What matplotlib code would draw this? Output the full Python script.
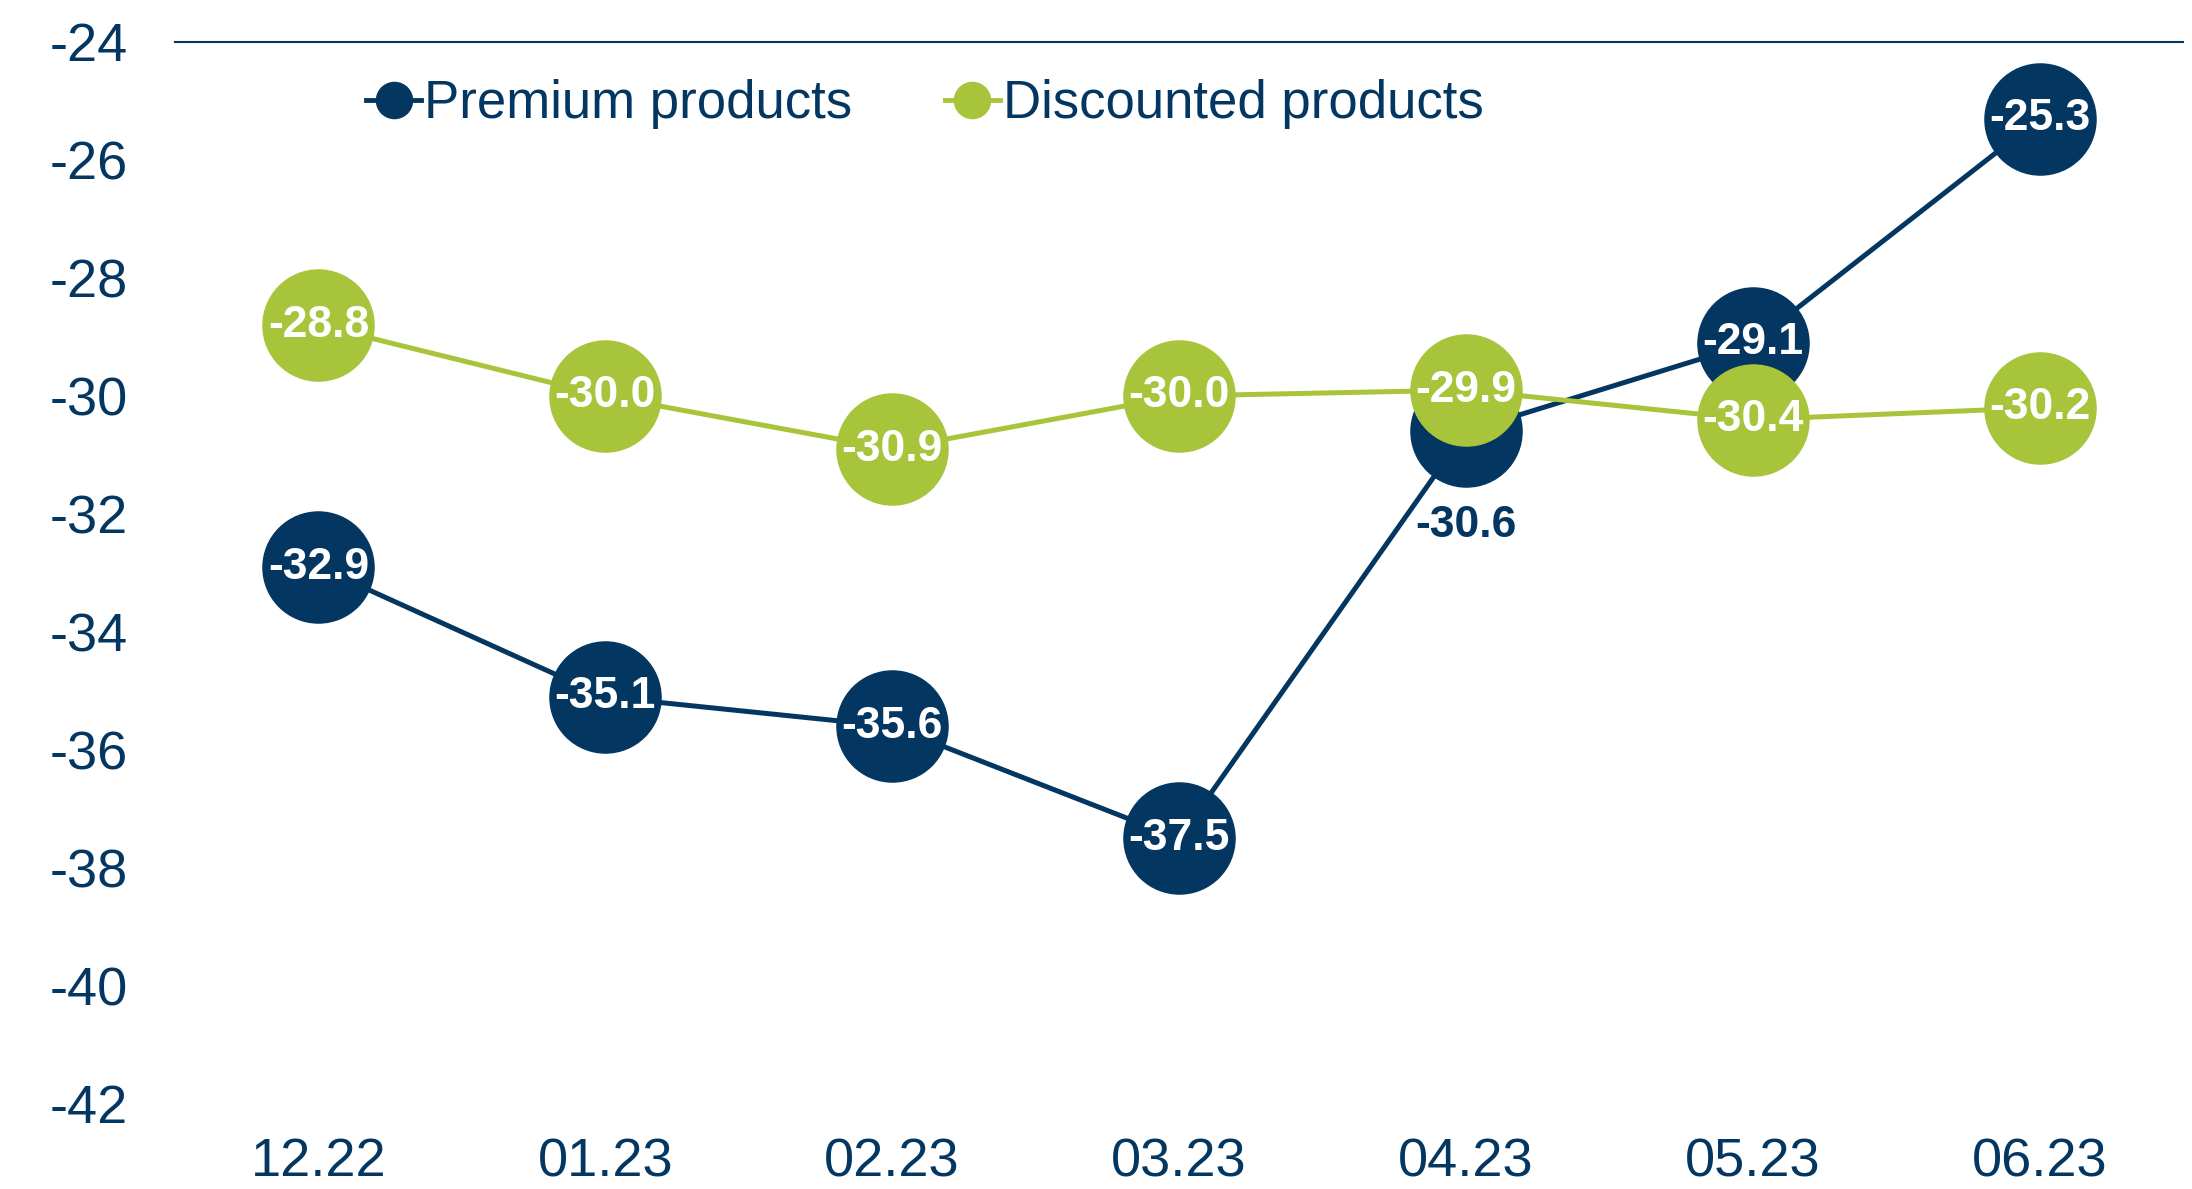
import matplotlib.pyplot as plt
from matplotlib.lines import Line2D

NAVY = "#033761"
GREEN = "#A8C43B"

months = ["12.22", "01.23", "02.23", "03.23", "04.23", "05.23", "06.23"]
premium = [-32.9, -35.1, -35.6, -37.5, -30.6, -29.1, -25.3]
discounted = [-28.8, -30.0, -30.9, -30.0, -29.9, -30.4, -30.2]
# labels of the premium series drawn under the marker instead of inside it
premium_below = ["04.23"]

plt.rcParams["font.family"] = ["Liberation Sans", "DejaVu Sans"]

fig = plt.figure(figsize=(21.92, 11.89), dpi=100)
left = 175 / 2192
ax = fig.add_axes([left, 0.0715, 2183 / 2192 - left, 0.8932])

x = list(range(len(months)))
ax.plot(x, premium, color=NAVY, lw=3.6, marker="o", ms=80, mec=NAVY, mfc=NAVY,
        zorder=3)
ax.plot(x, discounted, color=GREEN, lw=3.6, marker="o", ms=80, mec=GREEN, mfc=GREEN,
        zorder=4)

for xi, m, v in zip(x, months, premium):
    if m in premium_below:
        ax.text(xi, v - 1.6, f"{v:.1f}", ha="center", va="center", fontsize=32,
                fontweight="bold", color=NAVY, zorder=6)
    else:
        ax.text(xi, v, f"{v:.1f}", ha="center", va="center", fontsize=32,
                fontweight="bold", color="white", zorder=6)
for xi, v in zip(x, discounted):
    ax.text(xi, v, f"{v:.1f}", ha="center", va="center", fontsize=32,
            fontweight="bold", color="white", zorder=6)

ax.set_xlim(-0.5, 6.5)
ax.set_ylim(-42, -24)
ax.set_yticks(range(-42, -23, 2))
ax.set_yticklabels([str(t) for t in range(-42, -23, 2)])
ax.set_xticks(x)
ax.set_xticklabels(months)
ax.tick_params(axis="both", length=0, labelsize=39, labelcolor=NAVY)
ax.tick_params(axis="y", pad=34)
ax.tick_params(axis="x", pad=24)

for side in ["left", "right", "bottom"]:
    ax.spines[side].set_visible(False)
ax.spines["top"].set_color(NAVY)
ax.spines["top"].set_linewidth(1.5)

handles = [
    Line2D([], [], color=NAVY, lw=3.5, marker="o", ms=26, label="Premium products"),
    Line2D([], [], color=GREEN, lw=3.5, marker="o", ms=26, label="Discounted products"),
]
fig.legend(handles=handles, loc="center left", bbox_to_anchor=(366 / 2192, 1 - 104 / 1189),
           ncol=2, frameon=False, fontsize=38, labelcolor=NAVY, handlelength=1.05,
           handletextpad=0.05, columnspacing=1.75, borderpad=0, borderaxespad=0)

fig.savefig("out.png", dpi=100)
